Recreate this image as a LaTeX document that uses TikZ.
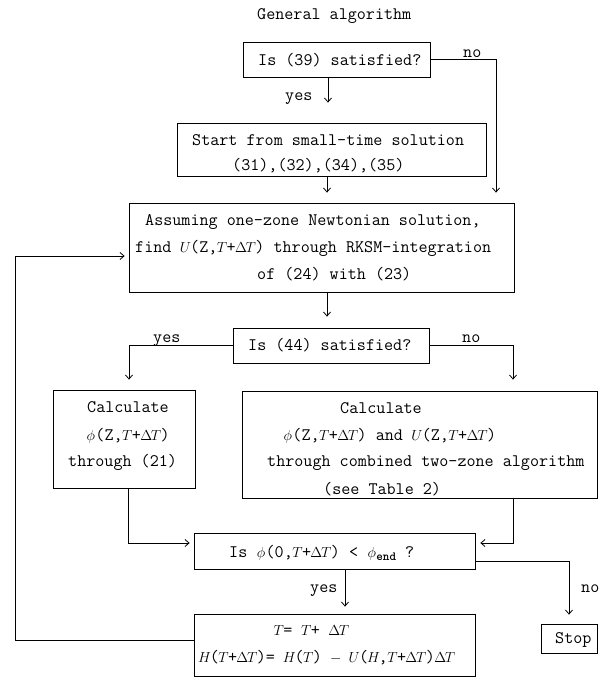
\RequirePackage{fix-cm}
\documentclass[tikz,border=0pt]{standalone}
\usetikzlibrary{arrows.meta}
\newcommand\mi[2][0.525em]{\makebox[#1]{\fontsize{14.5}{16}\selectfont$#2$}}
\newcommand\mD{\mi[0.6em]{\Delta}}
\newcommand\mT{\mi{T}}
\newcommand\mH{\mi[0.6em]{H}}
\newcommand\mU{\mi[0.55em]{U}}
\newcommand\mP{\mi{\phi}}
\tikzset{
 box/.style={draw, line width=0.8pt, inner sep=0pt},
 txt/.style={anchor=west, inner sep=0pt, text height=10.7pt, text depth=0pt, font=\fontsize{17.6}{20}\selectfont\ttfamily},
 arr/.style={line width=0.8pt, -{Straight Barb[length=4pt,width=7pt]}},
}
\begin{document}
\begin{tikzpicture}[x=1pt,y=-1pt]
\useasboundingbox (0,0) rectangle (599,677);
% boxes
\node[box, minimum width=187pt, minimum height=35pt] (b1) at (336.5,59.5) {};
\node[box, minimum width=309pt, minimum height=53pt] (b2) at (331.5,149.5) {};
\node[box, minimum width=385pt, minimum height=89pt] (b3) at (321.5,247.5) {};
\node[box, minimum width=196pt, minimum height=35pt] (b4) at (331,345.5) {};
\node[box, minimum width=142pt, minimum height=98pt] (b5) at (124,439) {};
\node[box, minimum width=355pt, minimum height=107pt] (b6) at (419.5,444.5) {};
\node[box, minimum width=281pt, minimum height=36pt] (b7) at (334.5,551) {};
\node[box, minimum width=281pt, minimum height=62pt] (b8) at (334.5,645) {};
\node[box, minimum width=56pt, minimum height=29pt] (stop) at (569,638.5) {};
% texts
\node[txt] (title) at (257,14) {General algorithm};
\node[txt] (t1) at (258,60) {Is (39) satisfied?};
\node[txt] (no1) at (463,52) {no};
\node[txt] (yes1) at (285,95) {yes};
\node[txt] (t2a) at (192,140) {Start from small-time solution};
\node[txt] (t2b) at (232,165) {(31),(32),(34),(35)};
\node[txt] (t3a) at (145,220) {Assuming one-zone Newtonian solution,};
\node[txt] (t3b) at (135,247) {find \mU(Z,\mT+\mD\mT) through RKSM-integration};
\node[txt] (t3c) at (257,274) {of (24) with (23)};
\node[txt] (t4) at (248,345) {Is (44) satisfied?};
\node[txt] (yes2) at (153,337) {yes};
\node[txt] (no2) at (462,337) {no};
\node[txt] (t5a) at (87,407) {Calculate};
\node[txt] (t5b) at (86,435) {\mP(Z,\mT+\mD\mT)};
\node[txt] (t5c) at (68,461) {through (21)};
\node[txt] (t6a) at (340,408) {Calculate};
\node[txt] (t6b) at (283,435) {\mP(Z,\mT+\mD\mT) and \mU(Z,\mT+\mD\mT)};
\node[txt] (t6c) at (267,461) {through combined two-zone algorithm};
\node[txt] (t6d) at (323,489) {(see Table 2)};
\node[txt] (t7) at (229,552) {Is \mP(0,\mT+\mD\mT) < \mP\raisebox{-3pt}{\fontsize{12.5}{13}\selectfont\bfseries end} ?};
\node[txt] (yes3) at (310,587) {yes};
\node[txt] (no3) at (581,587) {no};
\node[txt] (stoptxt) at (555,638) {Stop};
\node[txt] (t8a) at (274,630) {\mT= \mT+ \mD\mT};
\node[txt] (t8b) at (199,657) {\mH(\mT+\mD\mT)= \mH(\mT) \mi{-} \mU(\mH,\mT+\mD\mT)\mD\mT};
% helper coordinates
\coordinate (xA) at (328,0);
\coordinate (xB) at (327,0);
\coordinate (xR) at (496,0);
\coordinate (xL) at (129,0);
\coordinate (xL2) at (128,0);
\coordinate (xM) at (513,0);
\coordinate (xY) at (345,0);
\coordinate (fb) at (15,256);
% connectors
\draw[arr, shorten >=20pt] (b1.south -| xA) -- (b2.north -| xA);
\draw[arr, shorten >=10pt] (b1.east) -| (b3.north -| xR);
\draw[arr, shorten >=10pt] (b2.south -| xB) -- (b3.north -| xB);
\draw[arr, shorten >=11pt] (b3.south -| xB) -- (b4.north -| xB);
\draw[arr, shorten >=10pt] (b4.west) -| (b5.north -| xL);
\draw[arr, shorten >=11pt] (b4.east) -| (b6.north -| xM);
\draw[arr, shorten >=4pt] (b5.south -| xL2) |- ([yshift=8pt]b7.west);
\draw[arr, shorten >=5pt] (b6.south -| xM) |- ([yshift=8pt]b7.east);
\draw[arr, shorten >=7pt] (b7.south -| xY) -- (b8.north -| xY);
\draw[arr, shorten >=9pt] ([yshift=-10pt]b7.east) -| (stop.north);
\draw[arr, shorten >=4pt] ([yshift=5pt]b8.west) -| (fb) -- ([yshift=-8.5pt]b3.west);
\end{tikzpicture}
\end{document}
